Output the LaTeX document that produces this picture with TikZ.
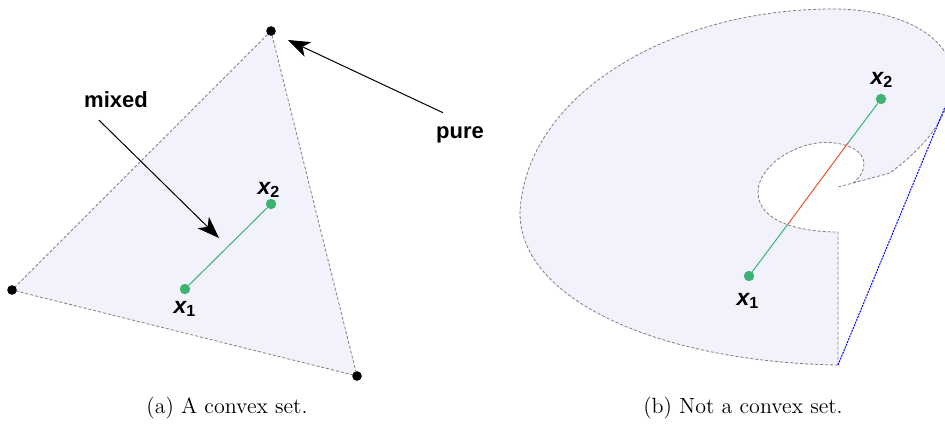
\documentclass[tikz,border=0pt]{standalone}
\usepackage{fontspec}
\newfontfamily\helv{Liberation Sans}
\usetikzlibrary{arrows.meta}
\definecolor{setlav}{RGB}{242,242,253}
\definecolor{ptgreen}{RGB}{60,179,113}
\definecolor{cutred}{RGB}{235,80,50}
\newcommand{\ptname}[1]{{\helv\bfseries\itshape x}\textsubscript{\helv\bfseries #1}}
\tikzset{
  setedge/.style={draw=gray, dash pattern=on 1.5pt off 1pt, line width=0.4pt},
  vertex/.style={circle, fill=black, inner sep=0pt, minimum size=4.8pt},
  gdot/.style={circle, fill=ptgreen, inner sep=0pt, minimum size=5.2pt},
  lbl/.style={font=\helv\bfseries\fontsize{11}{12}\selectfont},
  ptlbl/.style={font=\fontsize{11.5}{12}\selectfont},
  pointer/.style={-{Stealth[length=11pt,width=8pt,inset=3pt]}, line width=0.5pt},
  captext/.style={font=\fontsize{11}{13}\selectfont}
}
\begin{document}
\begin{tikzpicture}[x=0.5pt,y=-0.5pt]
    \useasboundingbox (0,0) rectangle (945,435);
    % (a) convex set
    \coordinate (top) at (271,31);
    \coordinate (left) at (12,290);
    \coordinate (right) at (357,376);
    \filldraw[setedge, fill=setlav] (top) -- (left) -- (right) -- cycle;
    \foreach \v in {top,left,right} \node[vertex] at (\v) {};
    \node[gdot] (a1) at (185,289) {};
    \node[gdot] (a2) at (271,204) {};
    \draw[ptgreen, line width=0.5pt] (a1) -- (a2);
    \node[ptlbl] (la1) at (185,309) {\ptname{1}};
    \node[ptlbl] (la2) at (269,190) {\ptname{2}};
    \node[lbl] (mixed) at (116,100) {mixed};
    \node[lbl] (pure) at (460,135) {pure};
    \coordinate (mixtip) at (219,238);
    \coordinate (puretip) at (288,40);
    \draw[pointer] (mixed.south) ++(-17,5) -- (mixtip);
    \draw[pointer] (pure.north) ++(-17,-7) -- (puretip);
    % (b) not a convex set
    \coordinate (corner) at (838,365);
    \coordinate (tail) at (853,183);
    \coordinate (spike) at (838,187);
    \coordinate (notch) at (838,232);
    \coordinate (rim) at (945,107);
    \filldraw[setlav] (corner) .. controls (660,362) and (520,300) .. (520,213)
      .. controls (525,95) and (670,9) .. (833,9)
      .. controls (905,9) and (952,40) .. (952,75)
      .. controls (952,120) and (920,150) .. (890,173) -- (tail)
      .. controls (868,172) and (872,148) .. (835,143)
      .. controls (800,138) and (758,165) .. (758,192)
      .. controls (758,222) and (800,232) .. (notch) -- cycle;
    \draw[setedge] (corner) .. controls (660,362) and (520,300) .. (520,213)
      .. controls (525,95) and (670,9) .. (833,9)
      .. controls (905,9) and (952,40) .. (952,75)
      .. controls (952,120) and (920,150) .. (890,173) -- (spike);
    \draw[setedge] (tail)
      .. controls (868,172) and (872,148) .. (835,143)
      .. controls (800,138) and (758,165) .. (758,192)
      .. controls (758,222) and (800,232) .. (notch) -- (corner);
    \draw[blue, dash pattern=on 1pt off 0.5pt, line width=0.5pt] (corner) -- (rim);
    \node[gdot] (b1) at (749,276) {};
    \node[gdot] (b2) at (881,99) {};
    \coordinate (in1) at (788,224);
    \coordinate (in2) at (848,143);
    \draw[ptgreen, line width=0.5pt] (b1) -- (in1);
    \draw[cutred, line width=0.5pt] (in1) -- (in2);
    \draw[ptgreen, line width=0.5pt] (in2) -- (b2);
    \node[ptlbl] (lb1) at (748,301) {\ptname{1}};
    \node[ptlbl] (lb2) at (882,80) {\ptname{2}};
    % captions
    \node[captext] (capa) at (227,408) {(a) A convex set.};
    \node[captext] (capb) at (743,408) {(b) Not a convex set.};
\end{tikzpicture}
\end{document}
